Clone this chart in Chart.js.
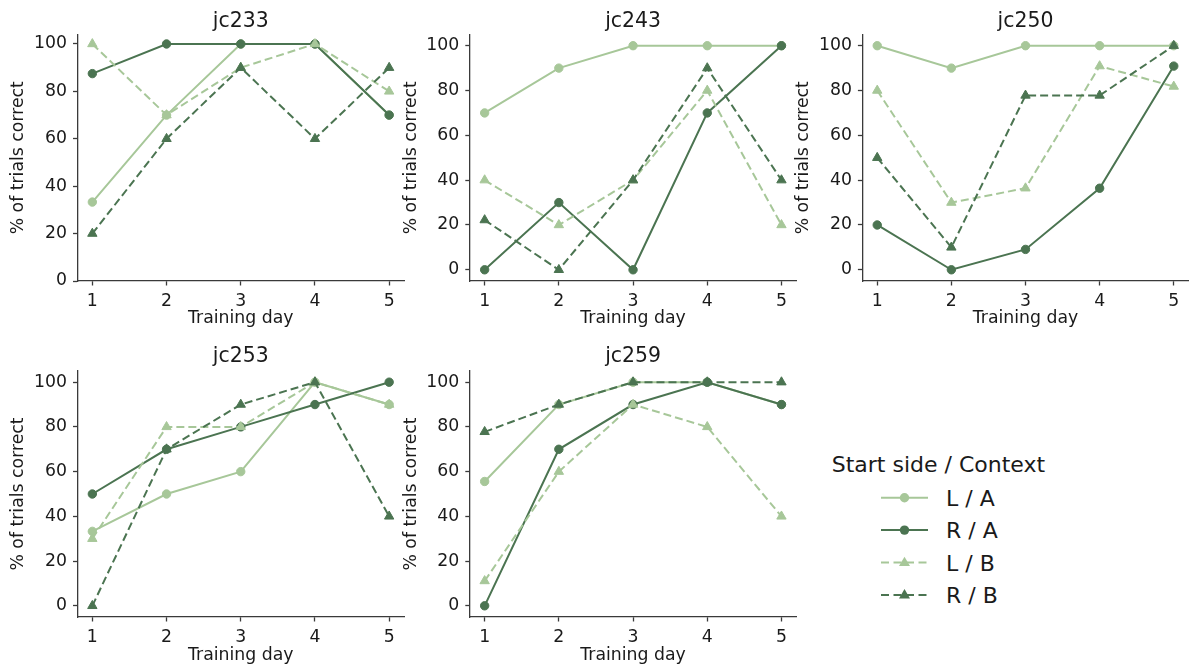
<!DOCTYPE html>
<html>
<head>
<meta charset="utf-8">
<script src="https://cdn.jsdelivr.net/npm/chart.js@4/dist/chart.umd.min.js"></script>
<style>
  html, body { margin: 0; padding: 0; background: #fff; width: 1190px; height: 667px; overflow: hidden; }
  canvas { position: absolute; }
  #legend { position: absolute; left: 0; top: 0; }
  #legend text { font-family: "DejaVu Sans", sans-serif; fill: #1a1a1a; }
</style>
</head>
<body>
<svg id="legend" width="1190" height="667"></svg>
<script>
// Training days and axis ticks
const days = [1, 2, 3, 4, 5];
const dayTicks = [1, 2, 3, 4, 5];
const pctTicks = [0, 20, 40, 60, 80, 100];

// Series order: L / A, R / A, L / B, R / B  (% of trials correct per day)
const seriesNames = ['L / A', 'R / A', 'L / B', 'R / B'];
const jc233 = [[33.3, 70, 100, 100, 70], [87.5, 100, 100, 100, 70], [100, 70, 90, 100, 80], [20, 60, 90, 60, 90]];
const jc243 = [[70, 90, 100, 100, 100], [0, 30, 0, 70, 100], [40, 20, 40, 80, 20], [22.2, 0, 40, 90, 40]];
const jc250 = [[100, 90, 100, 100, 100], [20, 0, 9.1, 36.4, 90.9], [80, 30, 36.4, 90.9, 81.8], [50, 10, 77.8, 77.8, 100]];
const jc253 = [[33.3, 50, 60, 100, 90], [50, 70, 80, 90, 100], [30, 80, 80, 100, 90], [0, 70, 90, 100, 40]];
const jc259 = [[55.6, 90, 100, 100, 90], [0, 70, 90, 100, 90], [11.1, 60, 90, 80, 40], [77.8, 90, 100, 100, 100]];

// Styling
const LIGHT = '#a7c799';
const DARK = '#4b7451';
const seriesColors = [LIGHT, DARK, LIGHT, DARK];
const seriesDash = [[], [], [8, 4], [8, 4]];
const seriesMarker = ['circle', 'circle', 'triangle', 'triangle'];
const markerRadius = [4.2, 4.2, 5.4, 5.4];
const AXIS = '#3a3a3a';
const TEXT = '#1a1a1a';
const FONT = '"DejaVu Sans", sans-serif';
const LABEL_SIZE = 17.3;

Chart.defaults.font.family = FONT;
Chart.defaults.color = TEXT;

// Layout of the subplot grid
const AXIS_W = 77.5;      // width reserved for y ticks + y title
const PLOT_W = 326.5;     // axes width
const colAxisLeft = [77.5, 469.8, 862.4];
const rows = [
  { y: 0,   h: 333, padTop: 0,   xAxisH: 52, titlePad: { top: 11.1, bottom: 3 },   xTitlePadB: 4 },
  { y: 336, h: 330, padTop: 0.5, xAxisH: 49, titlePad: { top: 9.6, bottom: 4.5 },  xTitlePadB: 0 }
];

const panels = [
  { name: 'jc233', series: jc233, row: 0, col: 0, yMin: 0,  yMax: 104 },
  { name: 'jc243', series: jc243, row: 0, col: 1, yMin: -5, yMax: 105 },
  { name: 'jc250', series: jc250, row: 0, col: 2, yMin: -5, yMax: 105 },
  { name: 'jc253', series: jc253, row: 1, col: 0, yMin: -5, yMax: 105 },
  { name: 'jc259', series: jc259, row: 1, col: 1, yMin: -5, yMax: 105 }
];

function makePanel(p) {
  const r = rows[p.row];
  const ax = colAxisLeft[p.col];
  const cx = Math.floor(ax - AXIS_W);
  const padL = ax - AXIS_W - cx;
  const cw = 411;
  const padR = cw - padL - AXIS_W - PLOT_W;

  const canvas = document.createElement('canvas');
  canvas.width = cw;
  canvas.height = r.h;
  canvas.style.left = cx + 'px';
  canvas.style.top = r.y + 'px';
  document.body.appendChild(canvas);

  new Chart(canvas, {
    type: 'line',
    data: {
      datasets: p.series.map((vals, i) => ({
        label: seriesNames[i],
        data: days.map((d, j) => ({ x: d, y: vals[j] })),
        borderColor: seriesColors[i],
        backgroundColor: seriesColors[i],
        borderWidth: 2,
        borderDash: seriesDash[i],
        pointStyle: seriesMarker[i],
        pointRadius: markerRadius[i],
        pointBorderWidth: 1,
        pointBorderColor: seriesColors[i],
        pointBackgroundColor: seriesColors[i],
        tension: 0,
        order: p.series.length - 1 - i,
        clip: false
      }))
    },
    options: {
      responsive: false,
      animation: false,
      events: [],
      layout: { padding: { left: padL, right: padR, top: r.padTop, bottom: 0 } },
      plugins: {
        legend: { display: false },
        tooltip: { enabled: false },
        title: {
          display: true,
          text: p.name,
          fullSize: false,
          color: TEXT,
          font: { size: 20.4, weight: 'normal', lineHeight: 1 },
          padding: r.titlePad
        }
      },
      scales: {
        x: {
          type: 'linear',
          min: 0.8,
          max: 5.2,
          afterBuildTicks: s => { s.ticks = dayTicks.map(v => ({ value: v })); },
          afterFit: s => { s.height = r.xAxisH; },
          grid: { drawOnChartArea: false, drawTicks: true, tickLength: 4.5, tickColor: AXIS, tickWidth: 1.3 },
          border: { display: true, color: AXIS, width: 1.3 },
          ticks: { color: TEXT, font: { size: LABEL_SIZE }, padding: 5.5, maxRotation: 0 },
          title: { display: true, text: 'Training day', color: TEXT, font: { size: LABEL_SIZE }, padding: { top: 0, bottom: r.xTitlePadB } }
        },
        y: {
          type: 'linear',
          min: p.yMin,
          max: p.yMax,
          afterBuildTicks: s => { s.ticks = pctTicks.map(v => ({ value: v })); },
          afterFit: s => { s.width = AXIS_W; },
          grid: { drawOnChartArea: false, drawTicks: true, tickLength: 4.5, tickColor: AXIS, tickWidth: 1.3 },
          border: { display: true, color: AXIS, width: 1.3 },
          ticks: { color: TEXT, font: { size: LABEL_SIZE }, padding: 6 },
          title: { display: true, text: '% of trials correct', color: TEXT, font: { size: LABEL_SIZE }, padding: { top: 8.6, bottom: 0 } }
        }
      }
    }
  });
}

panels.forEach(makePanel);

// Legend: "Start side / Context"
(function drawLegend() {
  const svg = document.getElementById('legend');
  const NS = 'http://www.w3.org/2000/svg';
  const add = (tag, attrs, text) => {
    const el = document.createElementNS(NS, tag);
    for (const k in attrs) el.setAttribute(k, attrs[k]);
    if (text !== undefined) el.textContent = text;
    svg.appendChild(el);
    return el;
  };
  add('text', { x: 831.7, y: 472.3, 'font-size': 22 }, 'Start side / Context');
  const rowY = [497.7, 530.1, 562.5, 594.9];
  const x0 = 881, x1 = 928, xm = (x0 + x1) / 2;
  seriesNames.forEach((name, i) => {
    const y = rowY[i];
    const c = seriesColors[i];
    add('line', { x1: x0, y1: y, x2: x1, y2: y, stroke: c, 'stroke-width': 2,
                  'stroke-dasharray': seriesDash[i].length ? '8 4.5' : 'none' });
    if (seriesMarker[i] === 'circle') {
      add('circle', { cx: xm, cy: y, r: 4.7, fill: c });
    } else {
      const s = 5.8;
      add('polygon', { points: `${xm},${y - s} ${xm - s * 0.95},${y + s * 0.6} ${xm + s * 0.95},${y + s * 0.6}`, fill: c });
    }
    add('text', { x: 946, y: y + 8.3, 'font-size': 22 }, name);
  });
})();
</script>
</body>
</html>
